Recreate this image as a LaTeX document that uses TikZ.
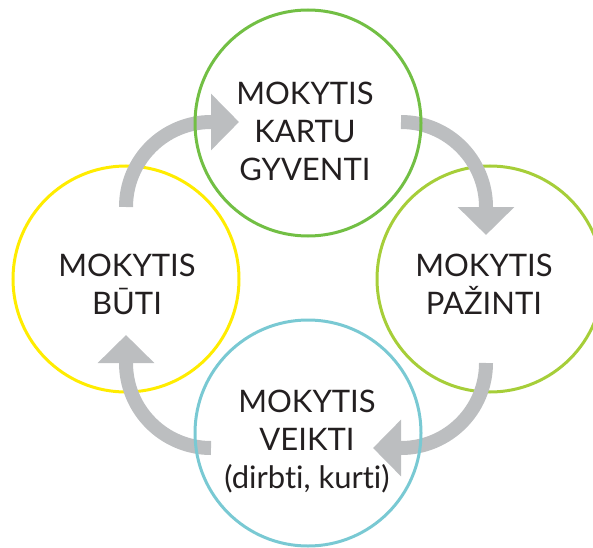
\documentclass[tikz,border=0pt]{standalone}
\usepackage{fontspec}
\setmainfont{Lato}[Ligatures=NoCommon]
\usetikzlibrary{arrows.meta}

\definecolor{kartugreen}{HTML}{72BF44}
\definecolor{pazintilime}{HTML}{A6CE39}
\definecolor{veikticyan}{HTML}{79C9D3}
\definecolor{butiyellow}{HTML}{FFEC00}
\definecolor{turngray}{HTML}{BCBEC0}
\definecolor{inkgray}{HTML}{231F20}

\begin{document}
\begin{tikzpicture}[x=1pt, y=1pt,
		ring/.style={circle, draw=#1, line width=3pt, minimum size=226pt, inner sep=0pt},
		words/.style={align=center, text=inkgray, font=\fontsize{31}{38}\selectfont},
		turn/.style={draw=turngray, line width=14pt, -{Triangle[length=28pt, width=55pt]}}]
	\useasboundingbox (0, 0) rectangle (593, 547);

	% rings lying under the arrows
	\node[ring=butiyellow]	(buti) at (126, 268) {};
	\node[ring=pazintilime]	(pazinti) at (490, 268) {};

	% the four turning arrows
	\draw[turn] (126, 340) arc[start angle=180, end angle=90, radius=85] -- ++(28, 0);
	\draw[turn] (401, 425) arc[start angle=90, end angle=0, radius=85] -- ++(0, -28);
	\draw[turn] (486, 184) arc[start angle=0, end angle=-90, radius=85] -- ++(-28, 0);
	\draw[turn] (211, 99) arc[start angle=-90, end angle=-180, radius=85] -- ++(0, 28);

	% rings lying over the arrows
	\node[ring=kartugreen]	(kartu) at (308, 424) {};
	\node[ring=veikticyan]	(veikti) at (308, 114) {};

	% texts
	\node[words] (kartutext) at (305, 416) {MOKYTIS\\KARTU\\GYVENTI};
	\node[words] (pazintitext) at (484, 263) {MOKYTIS\\PAŽINTI};
	\node[words] (veiktitext) at (307, 105) {MOKYTIS\\VEIKTI\\(dirbti, kurti)};
	\node[words] (butitext) at (127, 263) {MOKYTIS\\BŪTI};
\end{tikzpicture}
\end{document}
